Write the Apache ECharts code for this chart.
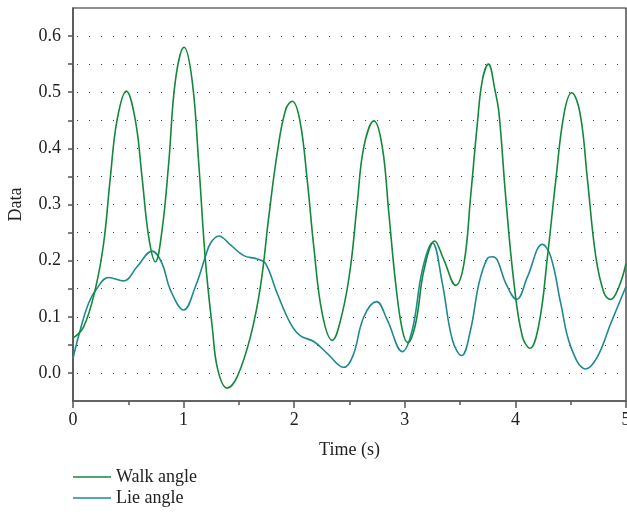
<!DOCTYPE html>
<html>
<head>
<meta charset="utf-8">
<script src="https://cdn.jsdelivr.net/npm/echarts@6/dist/echarts.min.js"></script>
<style>html,body{margin:0;padding:0;background:#fff;}#c{width:627px;height:515px;}</style>
</head>
<body>
<div id="c"></div>
<script>
// Walk angle (green)
var walkT = [0.0, 0.096, 0.20, 0.277, 0.338, 0.398, 0.482, 0.564, 0.624, 0.684, 0.745, 0.805, 0.865, 0.926, 1.004, 1.077, 1.137, 1.197, 1.26, 1.31, 1.394, 1.484, 1.605, 1.695, 1.770, 1.846, 1.921, 1.982, 2.051, 2.118, 2.177, 2.253, 2.344, 2.434, 2.51, 2.570, 2.630, 2.721, 2.796, 2.856, 2.917, 2.977, 3.028, 3.098, 3.173, 3.270, 3.354, 3.460, 3.535, 3.595, 3.656, 3.701, 3.756, 3.815, 3.852, 3.912, 3.987, 4.063, 4.132, 4.214, 4.29, 4.365, 4.44, 4.51, 4.585, 4.652, 4.727, 4.802, 4.862, 4.937, 5.0];
var walkV = [0.062, 0.082, 0.148, 0.231, 0.349, 0.450, 0.502, 0.450, 0.349, 0.243, 0.198, 0.254, 0.373, 0.521, 0.580, 0.521, 0.373, 0.201, 0.080, 0.005, -0.027, -0.007, 0.065, 0.154, 0.278, 0.391, 0.468, 0.484, 0.450, 0.343, 0.225, 0.106, 0.058, 0.106, 0.190, 0.302, 0.403, 0.449, 0.403, 0.284, 0.160, 0.077, 0.054, 0.088, 0.183, 0.235, 0.201, 0.156, 0.195, 0.314, 0.444, 0.521, 0.550, 0.504, 0.462, 0.314, 0.160, 0.065, 0.044, 0.088, 0.207, 0.343, 0.462, 0.499, 0.462, 0.343, 0.207, 0.142, 0.131, 0.154, 0.195];
// Lie angle (teal)
var lieT = [0.0, 0.066, 0.141, 0.217, 0.322, 0.458, 0.579, 0.715, 0.805, 0.88, 1.001, 1.107, 1.197, 1.243, 1.318, 1.424, 1.544, 1.665, 1.740, 1.846, 1.967, 2.057, 2.177, 2.298, 2.449, 2.53, 2.63, 2.745, 2.842, 2.977, 3.068, 3.158, 3.249, 3.339, 3.43, 3.514, 3.595, 3.671, 3.747, 3.792, 3.837, 3.912, 4.012, 4.109, 4.244, 4.32, 4.41, 4.50, 4.636, 4.742, 4.862, 5.0];
var lieV = [0.026, 0.077, 0.124, 0.151, 0.170, 0.164, 0.189, 0.217, 0.195, 0.148, 0.112, 0.154, 0.207, 0.231, 0.244, 0.228, 0.209, 0.203, 0.195, 0.142, 0.088, 0.066, 0.056, 0.035, 0.010, 0.030, 0.100, 0.127, 0.094, 0.038, 0.077, 0.183, 0.232, 0.160, 0.059, 0.031, 0.077, 0.160, 0.204, 0.207, 0.201, 0.160, 0.131, 0.171, 0.229, 0.207, 0.124, 0.047, 0.007, 0.029, 0.088, 0.154];
var seriesNames = ['Walk angle', 'Lie angle'];
var xTicks = [0, 1, 2, 3, 4, 5];

function pairs(t, v) { return t.map(function (x, i) { return [x, v[i]]; }); }

var FONT = 'Liberation Serif';
var chart = echarts.init(document.getElementById('c'), null, { renderer: 'canvas' });
chart.setOption({
  backgroundColor: '#fff',
  animation: false,
  textStyle: { fontFamily: FONT },
  grid: { left: 73, right: 1, top: 8, bottom: 114, show: true, borderColor: '#222', borderWidth: 1.2,
    containLabel: false, outerBoundsMode: 'none' },
  legend: {
    orient: 'vertical', left: 73, top: 468, padding: 0,
    icon: 'rect', itemWidth: 38, itemHeight: 1.6, itemGap: 3,
    textStyle: { fontFamily: FONT, fontSize: 18, color: '#222' },
    data: seriesNames
  },
  xAxis: {
    type: 'value', min: 0, max: 5, interval: 1,
    name: 'Time (s)', nameLocation: 'middle', nameGap: 40,
    nameTextStyle: { fontFamily: FONT, fontSize: 18, color: '#222' },
    axisLine: { show: true, onZero: false, lineStyle: { color: '#555', width: 1.5 } },
    axisTick: { show: true, inside: false, length: 7, lineStyle: { color: '#555', width: 1.5 } },
    minorTick: { show: true, splitNumber: 2, length: 4, lineStyle: { color: '#555', width: 1.5 } },
    axisLabel: { fontFamily: FONT, fontSize: 18, color: '#222', margin: 10,
      formatter: function (v) { return xTicks.indexOf(v) >= 0 ? String(v) : ''; } },
    splitLine: { show: false }
  },
  yAxis: {
    type: 'value', min: -0.05, max: 0.65, interval: 0.05,
    name: 'Data', nameLocation: 'middle', nameGap: 48,
    nameTextStyle: { fontFamily: FONT, fontSize: 18, color: '#222' },
    axisLine: { show: true, lineStyle: { color: '#555', width: 1.5 } },
    axisTick: { show: true, length: 5, lineStyle: { color: '#555', width: 1.5 },
      customValues: [0, 0.05, 0.1, 0.15, 0.2, 0.25, 0.3, 0.35, 0.4, 0.45, 0.5, 0.55, 0.6] },
    axisLabel: { fontFamily: FONT, fontSize: 18, color: '#222', margin: 12,
      customValues: [0, 0.1, 0.2, 0.3, 0.4, 0.5, 0.6],
      formatter: function (v) { return v.toFixed(1); } },
    splitLine: { show: true, lineStyle: { color: '#444', width: 1, type: [1, 11], dashOffset: -4 } }
  },
  series: [
    { name: seriesNames[0], type: 'line', data: pairs(walkT, walkV), smooth: 0.4, symbol: 'none',
      lineStyle: { color: '#12893a', width: 1.6 }, itemStyle: { color: '#12893a' }, z: 3 },
    { name: seriesNames[1], type: 'line', data: pairs(lieT, lieV), smooth: 0.4, symbol: 'none',
      lineStyle: { color: '#1f8a8e', width: 1.6 }, itemStyle: { color: '#1f8a8e' }, z: 2 }
  ]
});
</script>
</body>
</html>
